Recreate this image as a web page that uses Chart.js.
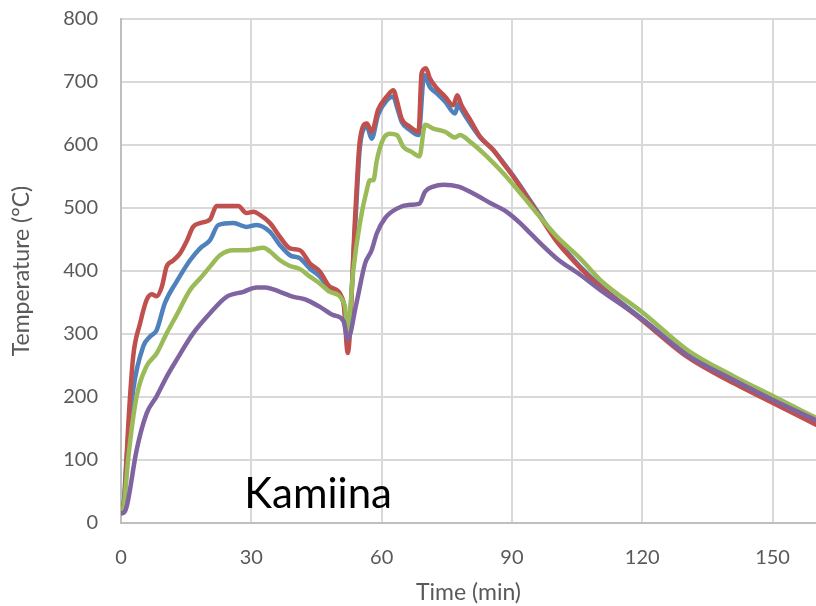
<!DOCTYPE html>
<html>
<head>
<meta charset="utf-8">
<title>Kamiina</title>
<script src="https://cdn.jsdelivr.net/npm/chart.js@4.4.1/dist/chart.umd.min.js"></script>
<style>
  html, body { margin: 0; padding: 0; background: #fff; }
  #chart { display: block; }
</style>
</head>
<body>
<canvas id="chart" width="816" height="606"></canvas>
<script>
// measured furnace temperatures, time in minutes
const redTime = [0, 0.8, 1.7, 2.8, 4.4, 5.9, 7.1, 8.2, 9.4, 10.5, 11.9, 13.6, 15.1, 16.6, 18.2, 20.5, 22, 24.3, 27, 28.9, 30.5, 32, 34.3, 36.6, 38.9, 41.2, 43.5, 45.8, 48.1, 51.2, 52.2, 53.9, 55, 56.6, 57.7, 59.2, 61.2, 62.7, 63.5, 64.6, 66.5, 68.5, 69.2, 70.2, 71.1, 72.7, 74.6, 76.5, 77.4, 78.4, 80.4, 82.7, 85.7, 88, 90.3, 93.4, 96.5, 100.3, 102.6, 105.7, 110.3, 120.3, 130.3, 141, 150.2, 160];
const redTemp = [15, 40, 159, 264, 317, 354, 363, 360, 375, 407, 416, 428, 447, 470, 476, 482, 503, 503, 503, 492, 494, 489, 476, 454, 436, 433, 412, 399, 375, 351, 270, 486, 608, 634, 621, 656, 677, 687, 671, 642, 629, 621, 714, 722, 706, 690, 677, 663, 679, 663, 640, 613, 592, 571, 550, 518, 486, 447, 428, 405, 375, 320, 264, 222, 190, 156];

const blueTime = [0, 0.6, 1.3, 2.8, 5.1, 6.7, 8.2, 10.1, 12.8, 15.9, 18.2, 20.5, 22.4, 25.9, 28.9, 31.2, 34.3, 36.6, 38.9, 41.2, 43.5, 45.8, 48.1, 51.2, 52.2, 53.9, 55, 56.6, 57.7, 59.2, 61.2, 62.7, 63.5, 64.6, 66.5, 68.5, 69.8, 71.1, 72.7, 74.6, 76.9, 77.7, 78.4, 80.4, 82.7, 85.7, 88, 90.3, 93.4, 96.5, 100.3, 102.6, 105.7, 110.3, 120.3, 130.3, 141, 150.2, 160];
const blueTemp = [15, 30, 105, 211, 280, 296, 306, 349, 383, 417, 436, 449, 473, 476, 470, 473, 462, 441, 425, 420, 404, 391, 372, 351, 300, 470, 597, 629, 610, 648, 671, 677, 661, 637, 624, 616, 711, 692, 682, 669, 650, 666, 656, 634, 612, 592, 572, 551, 520, 488, 449, 431, 407, 377, 322, 266, 224, 192, 159];

const greenTime = [0, 0.7, 1.7, 3.6, 5.9, 8.2, 10.5, 12.8, 15.9, 18.2, 20.5, 22.8, 25.9, 28.9, 32.8, 34.3, 36.6, 38.9, 41.2, 43.5, 45.8, 48.1, 51.5, 52.2, 53.5, 55, 56.6, 57.3, 58.1, 58.9, 60.4, 61.9, 63.5, 65, 66.9, 68.7, 70, 71.9, 74.6, 76.9, 78, 80.4, 84.2, 88, 92.6, 95.7, 100.3, 105.7, 110.3, 120.3, 130.3, 141, 150.2, 160];
const greenTemp = [15, 30, 105, 201, 249, 269, 301, 330, 370, 388, 407, 425, 433, 433, 437, 431, 417, 408, 403, 391, 380, 367, 346, 306, 402, 476, 529, 544, 544, 576, 610, 618, 616, 597, 589, 582, 632, 626, 621, 612, 616, 605, 582, 555, 518, 492, 455, 420, 386, 333, 275, 233, 201, 167];

const purpleTime = [0, 0.5, 1.3, 3.6, 5.9, 8.2, 10.5, 12.8, 16.6, 20.5, 24.3, 28.2, 31.2, 33.2, 36.6, 39.7, 42.4, 45.8, 48.9, 51.2, 52.2, 54.2, 56.2, 57.7, 58.9, 60.8, 63.5, 66.5, 68.7, 70, 71.9, 74.2, 77.7, 81.1, 85, 88.8, 91.9, 94.2, 100.3, 105.7, 110.3, 120.3, 130.3, 141, 150.2, 160];
const purpleTemp = [16, 16, 26, 116, 174, 201, 232, 259, 301, 333, 359, 367, 374, 374, 367, 359, 355, 343, 330, 321, 292, 349, 412, 433, 460, 484, 499, 505, 507, 526, 534, 537, 534, 523, 508, 494, 476, 460, 420, 394, 370, 322, 267, 227, 195, 163];

const xTicks = [0, 30, 60, 90, 120, 150];
const yTicks = [0, 100, 200, 300, 400, 500, 600, 700, 800];

const toPoints = (ts, vs) => ts.map((t, i) => ({ x: t, y: vs[i] }));

function series(ts, vs, color, order) {
  return {
    data: toPoints(ts, vs),
    borderColor: color,
    backgroundColor: color,
    borderWidth: 4.5,
    pointRadius: 0,
    cubicInterpolationMode: 'monotone',
    borderJoinStyle: 'round',
    borderCapStyle: 'round',
    order: order
  };
}

// caption drawn inside the plot area
const caption = {
  id: 'caption',
  afterDraw(chart) {
    const { ctx, scales: { x, y } } = chart;
    ctx.save();
    ctx.font = '42px Lato';
    ctx.fillStyle = '#000';
    ctx.textBaseline = 'alphabetic';
    ctx.fillText('Kamiina', x.getPixelForValue(28.4), y.getPixelForValue(24));
    ctx.restore();
  }
};

Chart.defaults.font.family = 'Lato';
Chart.defaults.color = '#595959';

new Chart(document.getElementById('chart'), {
  type: 'line',
  data: {
    datasets: [
      series(purpleTime, purpleTemp, '#8064A2', 0),
      series(greenTime, greenTemp, '#9BBB59', 1),
      series(redTime, redTemp, '#C0504D', 2),
      series(blueTime, blueTemp, '#4F81BD', 3)
    ]
  },
  options: {
    responsive: false,
    animation: false,
    layout: { padding: { top: 19, right: 0, left: 0, bottom: 0 } },
    plugins: { legend: { display: false }, tooltip: { enabled: false } },
    scales: {
      x: {
        type: 'linear',
        min: 0,
        max: 160,
        afterFit(scale) { scale.height = 83; },
        afterBuildTicks(scale) { scale.ticks = xTicks.map(v => ({ value: v })); },
        ticks: { font: { size: 20 }, padding: 23, maxRotation: 0, includeBounds: false },
        grid: { color: '#d9d9d9', lineWidth: 2, drawTicks: false },
        border: { color: '#bfbfbf', width: 2 },
        title: { display: true, text: 'Time (min)', font: { size: 23 }, padding: { top: 0, bottom: 0 } }
      },
      y: {
        min: 0,
        max: 800,
        afterFit(scale) {
          scale.width = 121;
          // the top label may stick out above the plot area
          scale.paddingTop = 0;
          scale.paddingBottom = 0;
        },
        afterBuildTicks(scale) { scale.ticks = yTicks.map(v => ({ value: v })); },
        ticks: { font: { size: 20 }, padding: 23 },
        grid: { color: '#d9d9d9', lineWidth: 2, drawTicks: false },
        border: { color: '#bfbfbf', width: 2 },
        title: { display: true, text: 'Temperature (°C)', font: { size: 23 }, padding: { top: 8, bottom: 0 } }
      }
    }
  },
  plugins: [caption]
});
</script>
</body>
</html>
